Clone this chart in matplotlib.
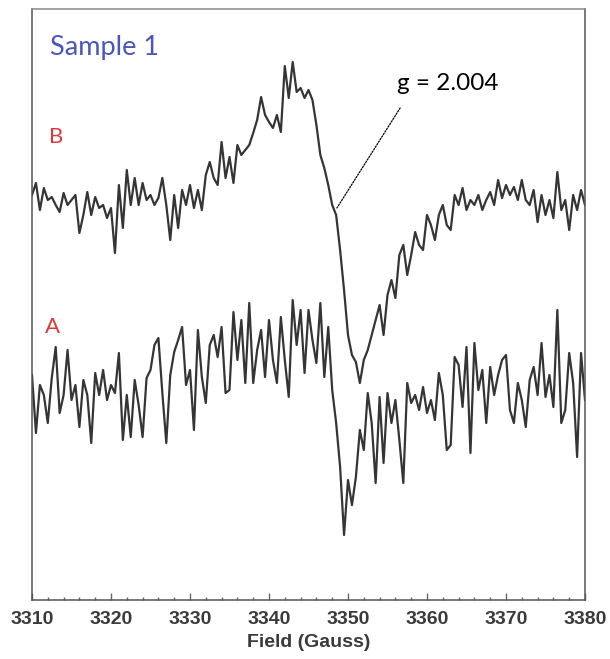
import numpy as np
import matplotlib
matplotlib.use("Agg")
import matplotlib.pyplot as plt
from matplotlib.ticker import MultipleLocator

# Magnetic field sweep (Gauss), 0.5 G steps
field = np.linspace(3310, 3380, 141)

# First-derivative EPR signal, arbitrary units, trace B
signal_b = [
    5, 17, -10, 12, 0, 3, -5, -12, 7, -5,
    0, 5, -33, -15, 8, -15, 3, -8, -5, -18,
    -8, -53, 15, -28, 30, -5, 22, -5, 17, 0,
    5, -5, 2, 22, -5, -40, 5, -28, 10, -5,
    15, -8, 10, -10, 25, 38, 22, 15, 58, 22,
    43, 17, 55, 45, 50, 55, 67, 80, 103, 85,
    78, 72, 85, 68, 134, 102, 138, 108, 112, 102,
    110, 100, 75, 45, 32, 15, -5, -15, -50, -90,
    -135, -155, -162, -183, -160, -150, -135, -120, -105, -135,
    -95, -80, -98, -55, -45, -75, -55, -32, -45, -50,
    -15, -25, -40, -15, -5, -25, -30, 5, -5, 12,
    -10, 0, -5, 5, -10, 0, 8, -5, 20, 2,
    15, 5, 13, 0, 20, 0, -5, 10, -22, 5,
    -15, 0, -18, 28, -10, 0, -30, 5, -10, 10,
    -5,
]

# First-derivative EPR signal, arbitrary units, trace A
signal_a = [
    15, -43, 5, -5, -33, 12, 43, -23, -5, 40,
    -10, 5, -37, 10, -5, -53, 17, -5, 20, -10,
    5, -3, 37, -50, -5, -47, 10, -15, -47, 12,
    20, 45, 52, -3, -53, 15, 38, 50, 63, 5,
    20, -40, 60, 13, -13, 45, 55, 33, 63, -3,
    0, 78, 30, 70, 7, 87, 7, 40, 60, 13,
    70, 30, 7, 73, 30, -7, 90, 45, 80, 17,
    80, 50, 27, 87, 13, 63, 0, -33, -77, -145,
    -90, -115, -87, -40, -60, -3, -33, -93, -7, -73,
    -3, -33, -10, -50, -93, 7, -13, -5, -20, 3,
    -23, -10, -30, 17, -5, -60, -55, 33, 25, -17,
    43, -63, 47, 0, 20, -33, 23, -5, 15, 30,
    35, -20, -33, 7, -10, -37, 10, 23, -5, 47,
    -7, 15, -17, 80, -33, -20, 37, 7, -67, 37,
    -10,
]

xticks = [3310, 3320, 3330, 3340, 3350, 3360, 3370, 3380]
trace_labels = ["B", "A"]

# vertical stacking of the two spectra
offsets = {"B": 400, "A": 210}

fig = plt.figure(figsize=(6.10, 6.59), dpi=100, facecolor="white")
ax = fig.add_axes([32 / 610, 1 - 600 / 659, (585 - 32) / 610, (600 - 9) / 659])

line_color = "#353535"
ax.plot(field, np.array(signal_b) + offsets["B"], color=line_color, lw=1.6,
        solid_joinstyle="round")
ax.plot(field, np.array(signal_a) + offsets["A"], color=line_color, lw=1.6,
        solid_joinstyle="round")

ax.set_xlim(3310, 3380)
ax.set_ylim(0, 591)
ax.set_yticks([])
ax.xaxis.set_major_locator(MultipleLocator(10))
ax.xaxis.set_minor_locator(MultipleLocator(2))
ax.set_xticks(xticks)
ax.set_xticklabels([str(t) for t in xticks])
ax.tick_params(axis="x", which="major", direction="in", length=5, width=1.0,
               color="#666666", pad=8, labelsize=14, labelcolor="#3a3a3a")
ax.tick_params(axis="x", which="minor", direction="in", length=2.5, width=1.0,
               color="#666666")
for lab in ax.get_xticklabels():
    lab.set_fontfamily("Liberation Sans")
    lab.set_fontweight("bold")

for side in ["left", "right", "top", "bottom"]:
    ax.spines[side].set_color("#555555")
    ax.spines[side].set_linewidth(1.1)
ax.spines["top"].set_color("#888888")

ax.set_xlabel("Field (Gauss)", fontsize=14, fontweight="bold",
              fontfamily="Liberation Sans", color="#3a3a3a", labelpad=4)

# annotations
ax.text(3312.3, 552, "Sample 1", color="#4a57b8", fontsize=19.5,
        fontfamily="Lato", va="center", ha="left")
ax.text(3312.2, 463, trace_labels[0], color="#d93a3a", fontsize=16,
        fontfamily="Lato", va="center", ha="left")
ax.text(3311.6, 273, trace_labels[1], color="#d93a3a", fontsize=16,
        fontfamily="Lato", va="center", ha="left")
ax.text(3356.2, 517, "g = 2.004", color="black", fontsize=17.5,
        fontfamily="Lato", va="center", ha="left")
ax.annotate("", xy=(3348.6, 392), xytext=(3356.6, 492),
            arrowprops=dict(arrowstyle="-", color="black", lw=0.9,
                            linestyle=(0, (1.2, 1.2)), shrinkA=0, shrinkB=0))

fig.savefig("out.png", dpi=100, facecolor="white")
